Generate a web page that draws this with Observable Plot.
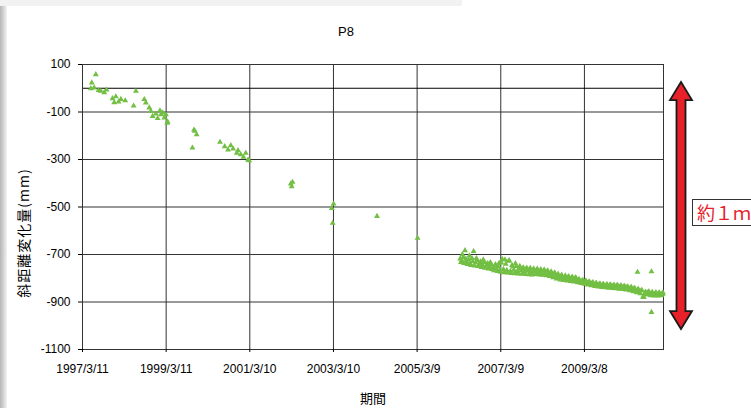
<!DOCTYPE html>
<html>
<head>
<meta charset="utf-8">
<script src="https://cdn.jsdelivr.net/npm/d3@7"></script>
<script src="https://cdn.jsdelivr.net/npm/@observablehq/plot@0.6"></script>
<style>
  html, body { margin: 0; padding: 0; background: #fff; }
  body { width: 751px; height: 408px; overflow: hidden; position: relative; font-family: "Liberation Sans", Arial, sans-serif; }
  #shadow { position: absolute; left: 0; top: 0; width: 7px; height: 408px; background: linear-gradient(to right, #b5b5b5, #f2f2f2); }
  #topband { position: absolute; left: 0; top: 0; width: 462px; height: 6px; background: #f2f2f2; }
  #title { position: absolute; left: 0; top: 24px; width: 692px; text-align: center; font-size: 13px; line-height: 16px; color: #000; }
  #chart { position: absolute; left: 0; top: 48px; }
  #xlabel { position: absolute; left: 323px; width: 100px; top: 390px; text-align: center; font-family: "Noto Sans CJK JP", sans-serif; font-size: 13px; line-height: 16px; color: #000; }
  #ylabel { position: absolute; left: 23px; top: 233px; transform: translate(-50%, -50%) rotate(-90deg); white-space: nowrap; font-family: "Noto Sans CJK JP", sans-serif; font-size: 14px; letter-spacing: 1px; line-height: 16px; color: #000; }
  #note { position: absolute; left: 692px; top: 199px; width: 80px; height: 25px; border: 1.5px solid #333; background: #fff; color: #e8202a; font-family: "Noto Sans CJK JP", sans-serif; font-size: 18px; line-height: 25px; padding-left: 4px; white-space: nowrap; }
</style>
</head>
<body>
<div id="shadow"></div>
<div id="topband"></div>
<div id="title">P8</div>
<div id="chart"></div>
<div id="xlabel">期間</div>
<div id="ylabel">斜距離変化量(mm)</div>
<div id="note">約１ｍ</div>
<script>
// ---- data ----
const sparseDates = [
  "1997-05-23","1997-05-31","1997-06-21","1997-07-05","1997-07-29","1997-08-18","1997-09-17","1997-10-07",
  "1997-11-28","1997-12-13","1997-12-27","1998-01-20","1998-02-09","1998-03-19","1998-05-31","1998-06-20",
  "1998-09-01","1998-09-15","1998-10-15","1998-10-29","1998-11-13","1998-12-12","1998-12-27","1999-01-16",
  "1999-01-25","1999-02-08","1999-02-23","1999-03-09","1999-03-21","1999-03-24",
  "1999-10-26","1999-11-09","1999-11-16","1999-12-02",
  "2000-06-23","2000-08-03","2000-09-01","2000-09-25","2000-10-15","2000-11-16","2000-11-27","2000-12-21",
  "2001-01-14","2001-02-03","2001-02-23","2001-03-04",
  "2002-03-03","2002-03-10","2002-03-18",
  "2003-02-24","2003-03-11","2003-03-03",
  "2004-03-24","2005-03-13"
];
const sparseValues = [
  -1, 23, 2, 58, -9, -12, -18, -7,
  -43, -60, -35, -57, -46, -52, -74, -12,
  -47, -61, -82, -97, -118, -108, -127, -94,
  -111, -103, -124, -111, -147, -141,
  -251, -175, -180, -195,
  -227, -245, -259, -241, -255, -273, -262, -279,
  -290, -273, -301, -304,
  -402, -414, -395,
  -505, -487, -568,
  -539, -631
];
const denseDates = [
  "2006-03-20","2006-04-01","2006-04-15","2006-05-01","2006-05-15","2006-06-01","2006-06-15","2006-07-01","2006-07-15","2006-08-01",
  "2006-08-15","2006-09-01","2006-09-15","2006-10-01","2006-10-15","2006-11-01","2006-11-15","2006-12-01","2006-12-15",
  "2007-01-01","2007-01-15","2007-02-01","2007-02-15","2007-03-01","2007-03-15","2007-04-01","2007-04-15","2007-05-01","2007-05-15",
  "2007-06-01","2007-06-15","2007-07-01","2007-07-15","2007-08-01","2007-08-15","2007-09-01","2007-09-15","2007-10-01","2007-10-15",
  "2007-11-01","2007-11-15","2007-12-01","2007-12-15",
  "2008-01-01","2008-01-15","2008-02-01","2008-02-15","2008-03-01","2008-03-15","2008-04-01","2008-04-15","2008-05-01","2008-05-15",
  "2008-06-01","2008-06-15","2008-07-01","2008-07-15","2008-08-01","2008-08-15","2008-09-01","2008-09-15","2008-10-01","2008-10-15",
  "2008-11-01","2008-11-15","2008-12-01","2008-12-15",
  "2009-01-01","2009-01-15","2009-02-01","2009-02-15","2009-03-01","2009-03-15","2009-04-01","2009-04-15","2009-05-01","2009-05-15",
  "2009-06-01","2009-06-15","2009-07-01","2009-07-15","2009-08-01","2009-08-15","2009-09-01","2009-09-15","2009-10-01","2009-10-15",
  "2009-11-01","2009-11-15","2009-12-01","2009-12-15",
  "2010-01-01","2010-01-15","2010-02-01","2010-02-15","2010-03-01","2010-03-15","2010-04-01","2010-04-15","2010-05-01","2010-05-15",
  "2010-06-01","2010-06-15","2010-07-01","2010-07-15","2010-08-01","2010-08-15","2010-09-01","2010-09-15","2010-10-01","2010-10-15",
  "2010-11-01","2010-11-15","2010-12-01","2010-12-15",
  "2011-01-01","2011-01-15","2011-01-20"
];
const denseValues = [
  -718, -726, -712, -683, -730, -722, -738, -716, -687, -735,
  -725, -742, -730, -745, -733, -748, -738, -752, -742,
  -757, -748, -760, -750, -766, -735, -762, -722, -766, -728,
  -770, -745, -765, -738, -772, -758, -768, -760, -774, -762,
  -770, -762, -776, -766,
  -772, -765, -775, -768, -777, -770, -779, -772, -782, -778,
  -788, -782, -793, -788, -797, -792, -800, -795, -802, -797,
  -804, -799, -806, -801,
  -810, -806, -814, -810, -817, -812, -821, -815, -824, -819,
  -828, -822, -830, -825, -832, -826, -833, -828, -835, -829,
  -836, -830, -837, -831,
  -838, -832, -840, -834, -842, -836, -845, -840, -849, -843,
  -853, -848, -858, -852, -878, -866, -862, -858, -868, -862,
  -870, -864, -869, -863,
  -869, -864, -867
];
// second set of readings lying between the ones above (thickens the band)
const denseDates2 = [
  "2006-03-27","2006-04-08","2006-04-22","2006-05-08","2006-05-22","2006-06-08","2006-06-22","2006-07-08","2006-07-22","2006-08-08",
  "2006-08-22","2006-09-08","2006-09-22","2006-10-08","2006-10-22","2006-11-08","2006-11-22","2006-12-08","2006-12-22",
  "2007-01-08","2007-01-22","2007-02-08","2007-02-22","2007-03-08","2007-03-22","2007-04-08","2007-04-22","2007-05-08","2007-05-22",
  "2007-06-08","2007-06-22","2007-07-08","2007-07-22","2007-08-08","2007-08-22","2007-09-08","2007-09-22","2007-10-08","2007-10-22",
  "2007-11-08","2007-11-22","2007-12-08","2007-12-22",
  "2008-01-08","2008-01-22","2008-02-08","2008-02-22","2008-03-08","2008-03-22","2008-04-08","2008-04-22","2008-05-08","2008-05-22",
  "2008-06-08","2008-06-22","2008-07-08","2008-07-22","2008-08-08","2008-08-22","2008-09-08","2008-09-22","2008-10-08","2008-10-22",
  "2008-11-08","2008-11-22","2008-12-08","2008-12-22",
  "2009-01-08","2009-01-22","2009-02-08","2009-02-22","2009-03-08","2009-03-22","2009-04-08","2009-04-22","2009-05-08","2009-05-22",
  "2009-06-08","2009-06-22","2009-07-08","2009-07-22","2009-08-08","2009-08-22","2009-09-08","2009-09-22","2009-10-08","2009-10-22",
  "2009-11-08","2009-11-22","2009-12-08","2009-12-22",
  "2010-01-08","2010-01-22","2010-02-08","2010-02-22","2010-03-08","2010-03-22","2010-04-08","2010-04-22","2010-05-08","2010-05-22",
  "2010-06-08","2010-06-22","2010-07-08","2010-07-22","2010-08-08","2010-08-22","2010-09-08","2010-09-22","2010-10-08","2010-10-22",
  "2010-11-08","2010-11-22","2010-12-08","2010-12-22",
  "2011-01-08","2011-01-22"
];
const denseValues2 = [
  -733, -700, -737, -719, -741, -705, -745, -729, -748, -716,
  -750, -735, -754, -722, -757, -741, -760, -733, -762,
  -768, -742, -771, -737, -774, -720, -776, -740, -777, -725,
  -779, -752, -780, -750, -781, -749, -782, -755, -783, -757,
  -784, -758, -785, -760,
  -783, -761, -785, -763, -787, -764, -789, -768, -792, -772,
  -797, -777, -802, -782, -806, -786, -809, -789, -811, -792,
  -813, -794, -815, -796,
  -818, -805, -821, -808, -824, -811, -828, -815, -831, -818,
  -834, -821, -836, -823, -838, -825, -839, -826, -841, -827,
  -842, -828, -843, -829,
  -845, -831, -847, -833, -849, -835, -852, -838, -856, -842,
  -860, -846, -864, -850, -880, -858, -870, -856, -873, -859,
  -874, -860, -874, -861,
  -873, -861
];
const outlierDates = ["2010-06-14", "2010-10-14", "2010-10-14"];
const outlierValues = [-774, -772, -943];

const xDomain = ["1997-03-11", "2011-01-27"];
const xTickDates = ["1997-03-11","1999-03-11","2001-03-10","2003-03-10","2005-03-09","2007-03-09","2009-03-08"];
const xTickLabels = ["1997/3/11","1999/3/11","2001/3/10","2003/3/10","2005/3/9","2007/3/9","2009/3/8"];
const yDomain = [-1100, 100];
const yTicks = [100, -100, -300, -500, -700, -900, -1100];
const yGrid = [-100, -300, -500, -700, -900];
const zeroLine = [0];
const arrowSpan = [24, -1016];   // the "約1m" arrow, in mm

// ---- build ----
const parse = d3.utcParse("%Y-%m-%d");
const points = [
  ...sparseDates.map((d, i) => ({date: parse(d), value: sparseValues[i]})),
  ...denseDates.map((d, i) => ({date: parse(d), value: denseValues[i]})),
  ...denseDates2.map((d, i) => ({date: parse(d), value: denseValues2[i]})),
  ...outlierDates.map((d, i) => ({date: parse(d), value: outlierValues[i]}))
];
const tickDates = xTickDates.map(parse);
const labelOf = new Map(tickDates.map((d, i) => [+d, xTickLabels[i]]));

function arrowMark(index, scales, values, dimensions) {
  const ns = "http://www.w3.org/2000/svg";
  const g = document.createElementNS(ns, "g");
  const cx = dimensions.width - dimensions.marginRight + 18;
  const y1 = scales.y(arrowSpan[0]);
  const y2 = scales.y(arrowSpan[1]);
  const hw = 11, hh = 18, sw = 4.5;
  const pts = [
    [cx, y1], [cx + hw, y1 + hh], [cx + sw, y1 + hh], [cx + sw, y2 - hh], [cx + hw, y2 - hh],
    [cx, y2], [cx - hw, y2 - hh], [cx - sw, y2 - hh], [cx - sw, y1 + hh], [cx - hw, y1 + hh]
  ];
  const poly = document.createElementNS(ns, "polygon");
  poly.setAttribute("points", pts.map(p => p.join(",")).join(" "));
  poly.setAttribute("fill", "#e8202a");
  poly.setAttribute("stroke", "#1a1a1a");
  poly.setAttribute("stroke-width", "1.8");
  poly.setAttribute("stroke-linejoin", "miter");
  g.appendChild(poly);
  return g;
}

const chart = Plot.plot({
  width: 751,
  height: 360,
  marginLeft: 82,
  marginRight: 88,
  marginTop: 16,
  marginBottom: 59,
  style: {fontFamily: "'Liberation Sans', Arial, sans-serif", fontSize: "12px", color: "#000", background: "transparent", overflow: "visible"},
  x: {type: "utc", domain: xDomain.map(parse), label: null},
  y: {domain: yDomain, label: null},
  marks: [
    Plot.ruleX(tickDates, {x: d => d, stroke: "#333", strokeWidth: 1}),
    Plot.ruleY(yGrid, {y: d => d, stroke: "#333", strokeWidth: 1}),
    Plot.ruleY(zeroLine, {y: d => d, stroke: "#000", strokeWidth: 1}),
    Plot.frame({stroke: "#333", strokeWidth: 1}),
    Plot.axisX({ticks: tickDates, tickFormat: d => labelOf.get(+d), tickSize: 3, tickPadding: 12, fontSize: 12, label: null}),
    Plot.axisY({ticks: yTicks, tickFormat: d => String(d), tickSize: 4, tickPadding: 8, fontSize: 12, label: null}),
    Plot.dot(points, {x: "date", y: "value", symbol: "triangle", r: 2.2, fill: "#72bf44", stroke: null}),
    arrowMark
  ]
});
document.getElementById("chart").appendChild(chart);
</script>
</body>
</html>
